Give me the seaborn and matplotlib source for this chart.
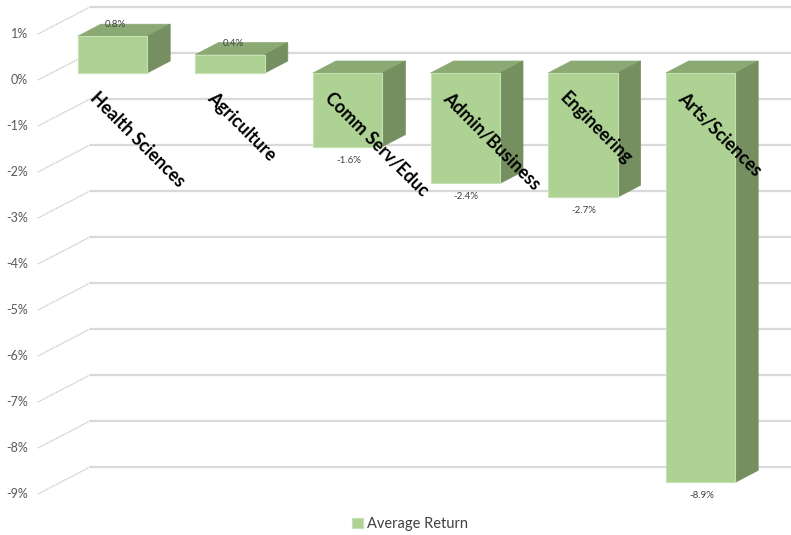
import matplotlib
matplotlib.use("Agg")
import matplotlib.pyplot as plt
from matplotlib.patches import Polygon
import seaborn as sns

# ---- data -------------------------------------------------------------
categories = ["Health Sciences", "Agriculture", "Comm Serv/Educ",
              "Admin/Business", "Engineering", "Arts/Sciences"]
avg_return = [0.8, 0.4, -1.6, -2.4, -2.7, -8.9]
tick_values = [1, 0, -1, -2, -3, -4, -5, -6, -7, -8, -9]
tick_labels = [f"{v}%" for v in tick_values]
series_name = "Average Return"

# ---- style ------------------------------------------------------------
FRONT = "#ADD293"
TOP = "#8BA973"
SIDE = "#768F60"
GRID = "#D9D9D9"
DIAG = "#CDCDCD"

W, H, DPI = 791, 535, 100
PX_X = 117.6   # pixels per category slot
PX_Y = 46.0    # pixels per percentage point
X0_PX = 112.5  # pixel column of the first category centre
Y0_PX = 73.0   # pixel row (from top) of the 0 % level on the bar fronts


def dx(px):
    return px / PX_X


def dy(px):
    return px / PX_Y


# pseudo-3D depth offsets (data units)
BAR_DX, BAR_DY = dx(23), dy(12)          # bar depth
WALL_DX, WALL_DY = dx(38.5), dy(20)      # back wall behind the bar fronts
AXIS_DX, AXIS_DY = dx(-13.5), dy(-7)     # front edge of the side wall
LEFT_X = dx(51.5 - X0_PX)                # side wall position on the bar-front plane

sns.set_theme(style="white")
plt.rcParams["font.family"] = ["Lato", "DejaVu Sans"]

fig = plt.figure(figsize=(W / DPI, H / DPI), dpi=DPI)
ax = fig.add_axes([0, 0, 1, 1])

sns.barplot(x=categories, y=avg_return, color=FRONT, saturation=1,
            width=0.59, label=series_name, ax=ax, zorder=3,
            edgecolor="#C6E1B3", linewidth=0.8)

xmin, xmax = -X0_PX / PX_X, (W - X0_PX) / PX_X
ax.set_xlim(xmin, xmax)
ax.set_ylim((Y0_PX - H) / PX_Y, Y0_PX / PX_Y)
ax.axis("off")

# back wall gridlines + side wall diagonals + value axis labels
for v, lbl in zip(tick_values, tick_labels):
    ax.plot([LEFT_X + WALL_DX, xmax + 1], [v + WALL_DY, v + WALL_DY],
            color=GRID, lw=1.6, zorder=1, solid_capstyle="butt")
    ax.plot([LEFT_X + AXIS_DX, LEFT_X + WALL_DX], [v + AXIS_DY, v + WALL_DY],
            color=DIAG, lw=1.0, zorder=1, linestyle=(0, (1.2, 0.6)))
    ax.annotate(lbl, (LEFT_X + AXIS_DX, v + AXIS_DY), xytext=(-10, 0),
                textcoords="offset pixels", ha="right", va="center",
                fontsize=9, color="#595959")

# top and side faces of each bar, value labels and category labels
for patch, val, cat in zip(ax.patches, avg_return, categories):
    x0, w = patch.get_x(), patch.get_width()
    top = max(patch.get_y(), patch.get_y() + patch.get_height())
    bot = min(patch.get_y(), patch.get_y() + patch.get_height())
    top_face = [(x0, top), (x0 + w, top),
                (x0 + w + BAR_DX, top + BAR_DY), (x0 + BAR_DX, top + BAR_DY)]
    side_face = [(x0 + w, top), (x0 + w, bot),
                 (x0 + w + BAR_DX, bot + BAR_DY), (x0 + w + BAR_DX, top + BAR_DY)]
    ax.add_patch(Polygon(top_face, closed=True, facecolor=TOP,
                         edgecolor=TOP, lw=0.5, zorder=2.9))
    ax.add_patch(Polygon(side_face, closed=True, facecolor=SIDE,
                         edgecolor=SIDE, lw=0.5, zorder=2.9))

    cx = x0 + w / 2
    if val >= 0:
        ax.annotate(f"{val:.1f}%", (cx, val), xytext=(3, 7),
                    textcoords="offset pixels", ha="center", va="bottom",
                    fontsize=7, color="#404040", zorder=6)
    else:
        ax.annotate(f"{val:.1f}%", (cx, val), xytext=(1, -9),
                    textcoords="offset pixels", ha="center", va="top",
                    fontsize=7, color="#404040", zorder=6)

    ax.annotate(cat, (cx, 0), xytext=(-14, -16), textcoords="offset pixels",
                rotation=-45, rotation_mode="anchor", ha="left", va="top",
                fontsize=12.8, fontweight="bold", color="black", zorder=7)

leg = ax.legend(loc="center", bbox_to_anchor=(410 / W, 1 - 524 / H),
                frameon=False, fontsize=10.5, handlelength=0.75,
                handleheight=0.75, handletextpad=0.3)
for t in leg.get_texts():
    t.set_color("#404040")

fig.savefig("out.png", dpi=DPI)
